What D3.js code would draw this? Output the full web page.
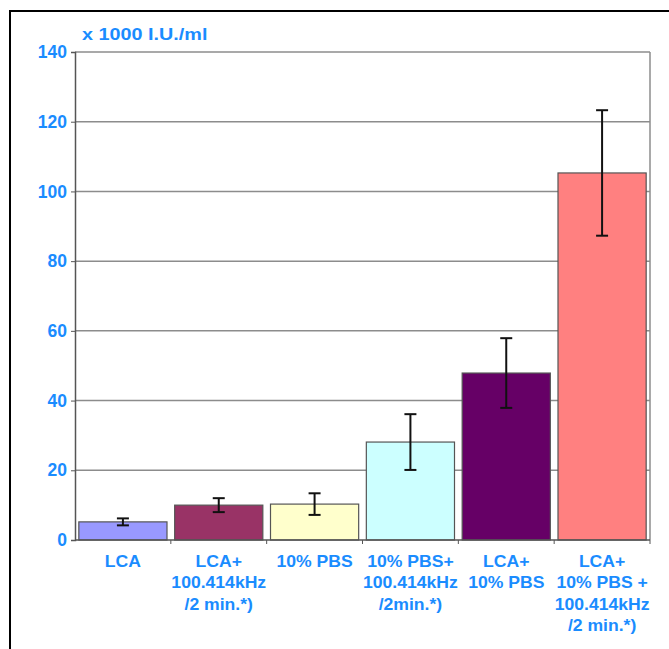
<!DOCTYPE html>
<html>
<head>
<meta charset="utf-8">
<script src="https://cdn.jsdelivr.net/npm/d3@7"></script>
<style>
  body { margin: 0; background: #fff; }
  text { font-family: "Liberation Sans", Arial, sans-serif; font-weight: bold; fill: #1a8cff; }
</style>
</head>
<body>
<div id="chart"></div>
<script>
// Chart size
var width = 669;
var height = 649;

// Data
var categories = [
  ["LCA"],
  ["LCA+", "100.414kHz", "/2 min.*)"],
  ["10% PBS"],
  ["10% PBS+", "100.414kHz", "/2min.*)"],
  ["LCA+", "10% PBS"],
  ["LCA+", "10% PBS +", "100.414kHz", "/2 min.*)"]
];
var means = [5.2, 10.0, 10.3, 28.1, 47.9, 105.3];
var errors = [1.0, 2.0, 3.1, 8.0, 10.0, 18.0];
var barColors = ["#9999ff", "#993366", "#ffffcc", "#ccffff", "#660066", "#ff8080"];
var yTicks = [0, 20, 40, 60, 80, 100, 120, 140];

var plot = { left: 75, right: 650, top: 52, bottom: 540 };

var svg = d3.select("#chart").append("svg")
    .attr("width", width)
    .attr("height", height);

// outer black frame (runs off the picture on the right and bottom)
svg.append("rect")
    .attr("x", 10).attr("y", 11)
    .attr("width", 700).attr("height", 700)
    .attr("fill", "none")
    .attr("stroke", "#000")
    .attr("stroke-width", 2);

var x = d3.scaleBand()
    .domain(d3.range(means.length))
    .range([plot.left, plot.right])
    .paddingInner(0.08)
    .paddingOuter(0.04);

var y = d3.scaleLinear()
    .domain([0, 140])
    .range([plot.bottom, plot.top]);

// gridlines
svg.append("g").selectAll("line")
    .data(yTicks.filter(function(d) { return d > 0; }))
    .enter().append("line")
    .attr("x1", plot.left).attr("x2", plot.right)
    .attr("y1", function(d) { return y(d); })
    .attr("y2", function(d) { return y(d); })
    .attr("stroke", "#8c8c8c")
    .attr("stroke-width", 1.5);

// right edge of plot area
svg.append("line")
    .attr("x1", plot.right).attr("x2", plot.right)
    .attr("y1", plot.top).attr("y2", plot.bottom)
    .attr("stroke", "#8c8c8c")
    .attr("stroke-width", 1.5);

// bars
svg.append("g").selectAll("rect")
    .data(means)
    .enter().append("rect")
    .attr("x", function(d, i) { return x(i); })
    .attr("y", function(d) { return y(d); })
    .attr("width", x.bandwidth())
    .attr("height", function(d) { return y(0) - y(d); })
    .attr("fill", function(d, i) { return barColors[i]; })
    .attr("stroke", "#555")
    .attr("stroke-width", 1.2);

// error bars
var eb = svg.append("g").selectAll("g")
    .data(means)
    .enter().append("g")
    .attr("stroke", "#111")
    .attr("stroke-width", 2);

eb.append("line")
    .attr("x1", function(d, i) { return x(i) + x.bandwidth() / 2; })
    .attr("x2", function(d, i) { return x(i) + x.bandwidth() / 2; })
    .attr("y1", function(d, i) { return y(d + errors[i]); })
    .attr("y2", function(d, i) { return y(d - errors[i]); });

[1, -1].forEach(function(s) {
  eb.append("line")
      .attr("x1", function(d, i) { return x(i) + x.bandwidth() / 2 - 6; })
      .attr("x2", function(d, i) { return x(i) + x.bandwidth() / 2 + 6; })
      .attr("y1", function(d, i) { return y(d + s * errors[i]); })
      .attr("y2", function(d, i) { return y(d + s * errors[i]); });
});

// y axis
var yAxis = svg.append("g")
    .attr("transform", "translate(" + plot.left + ",0)")
    .call(d3.axisLeft(y).tickValues(yTicks).tickSize(4).tickPadding(4));
yAxis.select(".domain").attr("stroke", "#555").attr("stroke-width", 1.5);
yAxis.selectAll(".tick line").attr("stroke", "#555");
yAxis.selectAll(".tick text")
    .style("font-size", "17.5px")
    .attr("fill", "#1a8cff");

// x axis: ticks at band boundaries
var bounds = d3.range(means.length + 1).map(function(i) { return plot.left + i * (plot.right - plot.left) / means.length; });
svg.append("line")
    .attr("x1", plot.left).attr("x2", plot.right)
    .attr("y1", plot.bottom).attr("y2", plot.bottom)
    .attr("stroke", "#555").attr("stroke-width", 1.5);
svg.append("g").selectAll("line")
    .data(bounds.slice(1))
    .enter().append("line")
    .attr("x1", function(d) { return d; }).attr("x2", function(d) { return d; })
    .attr("y1", plot.bottom).attr("y2", plot.bottom + 4)
    .attr("stroke", "#555");

// category labels (the original lettering is a bit wide, so stretch it)
var labels = svg.append("g").selectAll("text")
    .data(categories)
    .enter().append("text")
    .attr("text-anchor", "middle")
    .style("font-size", "16px")
    .attr("transform", function(d, i) {
      return "translate(" + (x(i) + x.bandwidth() / 2) + "," + 567 + ") scale(1.1,1)";
    });
labels.selectAll("tspan")
    .data(function(d) { return d; })
    .enter().append("tspan")
    .attr("x", 0)
    .attr("dy", function(d, i) { return i ? 21.5 : 0; })
    .text(function(d) { return d; });

// unit title
svg.append("text")
    .attr("transform", "translate(82,40) scale(1.2,1)")
    .style("font-size", "16.5px")
    .text("x 1000 I.U./ml");
</script>
</body>
</html>
